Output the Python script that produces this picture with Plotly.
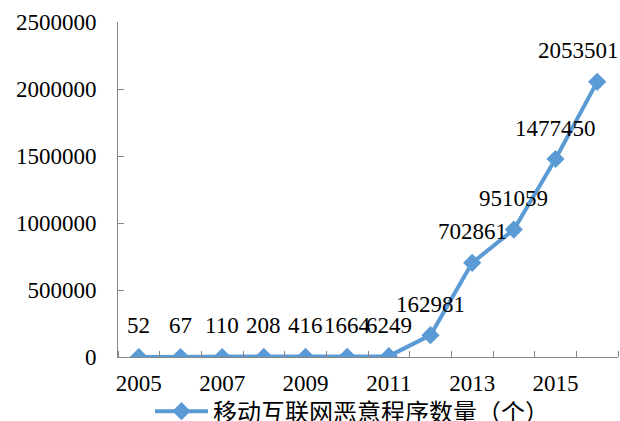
import plotly.graph_objects as go

years = [2005, 2006, 2007, 2008, 2009, 2010, 2011, 2012, 2013, 2014, 2015, 2016]
counts = [52, 67, 110, 208, 416, 1664, 6249, 162981, 702861, 951059, 1477450, 2053501]
series_name = "移动互联网恶意程序数量（个）"
x_tick_years = [2005, 2007, 2009, 2011, 2013, 2015]
y_ticks = [0, 500000, 1000000, 1500000, 2000000, 2500000]

BLUE = "#5B9BD5"
SERIF = "Liberation Serif, Times New Roman, serif"

fig = go.Figure()
fig.add_trace(go.Scatter(
    x=years, y=counts, mode="lines+markers", name=series_name,
    line=dict(color=BLUE, width=4),
    marker=dict(symbol="diamond", size=14, color=BLUE),
))

for i, (x, y) in enumerate(zip(years, counts)):
    last = i == len(years) - 1
    fig.add_annotation(x=x, y=y, text=str(y), showarrow=False, yshift=31,
                       xanchor="right" if last else "center", xshift=24 if last else 0,
                       font=dict(family=SERIF, size=23, color="black"))

fig.update_layout(
    width=620, height=421,
    margin=dict(l=118, r=2, t=22, b=64, autoexpand=False),
    paper_bgcolor="white", plot_bgcolor="white",
    showlegend=True,
    legend=dict(orientation="h", x=0.064, xanchor="left", y=-0.163, yanchor="middle",
                bgcolor="rgba(0,0,0,0)",
                font=dict(family="Noto Sans CJK SC", size=24, color="black"),
                itemwidth=53),
)
fig.update_xaxes(
    range=[2004.5, 2016.5], tickvals=x_tick_years, ticktext=[str(v) for v in x_tick_years],
    ticks="", showline=True, linecolor="#868686", linewidth=1, showgrid=False, zeroline=False,
    tickfont=dict(family=SERIF, size=23, color="black"), ticklabelstandoff=5,
    minor=dict(tick0=2004.5, dtick=1, ticks="inside", ticklen=6, tickcolor="#868686", showgrid=False),
)
fig.update_yaxes(
    range=[0, 2500000], tickvals=y_ticks, ticktext=[str(v) for v in y_ticks],
    ticks="inside", ticklen=6, tickcolor="#868686",
    showline=True, linecolor="#868686", linewidth=1, showgrid=False, zeroline=False,
    tickfont=dict(family=SERIF, size=23, color="black"), ticklabelstandoff=16,
)

fig.write_html("out.html")
